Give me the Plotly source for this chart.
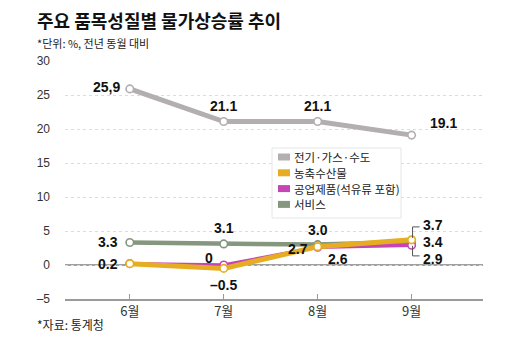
import plotly.graph_objects as go

months = ["6월", "7월", "8월", "9월"]
names = ["전기·가스·수도", "농축수산물", "공업제품(석유류 포함)", "서비스"]
utility = [25.9, 21.1, 21.1, 19.1]
agri = [0.2, -0.5, 2.7, 3.7]
industrial = [0.2, 0.0, 2.6, 2.9]
services = [3.3, 3.1, 3.0, 3.4]
colors = ["#b3aeb0", "#e6ad22", "#c545b5", "#85977f"]
widths = [5, 5, 3.5, 4.5]
yticks = [-5, 0, 5, 10, 15, 20, 25, 30]
yticktext = ["–5", "0", "5", "10", "15", "20", "25", "30"]

series = [utility, agri, industrial, services]
xi = list(range(len(months)))

fig = go.Figure()
# draw order: services, industrial, agri, utility
for k in [3, 2, 1, 0]:
    fig.add_trace(go.Scatter(
        x=xi, y=series[k], mode="lines+markers", name=names[k],
        line=dict(color=colors[k], width=widths[k]),
        marker=dict(size=7.5, color="white", line=dict(color=colors[k], width=1.6)),
        showlegend=False, hoverinfo="skip"))

LF = dict(family="Liberation Sans, Arial, sans-serif", size=14, color="#111")

def lab(i, v, text, xs, ys, xa="center"):
    fig.add_annotation(x=i, y=v, xref="x", yref="y", text="<b>%s</b>" % text,
                       showarrow=False, xshift=xs, yshift=ys, xanchor=xa,
                       yanchor="middle", font=LF)

def fmt(v):
    if v == 0:
        return "0"
    s = "%.1f" % abs(v)
    return ("–" + s) if v < 0 else s

# utility labels
lab(0, utility[0], fmt(utility[0]).replace(".", ","), -8, 2, "right")
lab(1, utility[1], fmt(utility[1]), 0, 16)
lab(2, utility[2], fmt(utility[2]), 0, 16)
lab(3, utility[3], fmt(utility[3]), 16, 12, "left")
# services / agri / industrial
lab(0, services[0], fmt(services[0]), -10, 1, "right")
lab(0, agri[0], fmt(agri[0]), -10, 0, "right")
lab(1, services[1], fmt(services[1]), 0, 16)
lab(1, industrial[1], fmt(industrial[1]), -9, 7, "right")
lab(1, agri[1], fmt(agri[1]), 0, -17)
lab(2, services[2], fmt(services[2]), 0, 15)
lab(2, agri[2], fmt(agri[2]), -8, -2, "right")
lab(2, industrial[2], fmt(industrial[2]), 8, -12, "left")
# 9월 bracket labels
for val, ys in [(agri[3], 17), (services[3], 0), (industrial[3], -17)]:
    lab(3, services[3], fmt(val), 9, ys, "left")

# bracket (pixel-scaled in data units)
ppu = 238 / 35.0
yc = services[3]
top = yc + 15 / ppu
bot = yc - 14 / ppu
dx = 7 / 94.0
for y0, y1 in [(top, yc + 4 / ppu), (yc - 4 / ppu, bot)]:
    fig.add_shape(type="line", xref="x", yref="y", x0=3.01, x1=3.01, y0=y0, y1=y1,
                  line=dict(color="#555", width=1))
for yy in [top, bot]:
    fig.add_shape(type="line", xref="x", yref="y", x0=3.01, x1=3.01 + dx, y0=yy, y1=yy,
                  line=dict(color="#555", width=1))

# zero line
fig.add_shape(type="line", xref="paper", yref="y", x0=0, x1=1, y0=0, y1=0,
              line=dict(color="#a0a0a0", width=2), layer="below")

# manual legend
W, H, L, B = 418.0, 238.0, 65.0, 299.0
def px(x): return (x - L) / W
def py(y): return (B - y) / H
fig.add_shape(type="rect", xref="paper", yref="paper", x0=px(272), x1=px(401),
              y0=py(218), y1=py(148), line=dict(color="#e6e6e6", width=1),
              fillcolor="white", layer="above")
for j, nm in enumerate(names):
    ry = 157 + j * 15.8
    fig.add_shape(type="rect", xref="paper", yref="paper", x0=px(278), x1=px(290),
                  y0=py(ry + 3.5), y1=py(ry - 3.5), line=dict(width=0),
                  fillcolor=colors[j], layer="above")
    fig.add_annotation(xref="paper", yref="paper", x=px(292), y=py(ry), text=nm,
                       showarrow=False, xanchor="left", yanchor="middle",
                       font=dict(family="Noto Sans CJK KR", size=11.5, color="#222"))

# titles
fig.add_annotation(xref="paper", yref="paper", x=px(35), y=py(20), text="<b>주요 품목성질별 물가상승률 추이</b>",
                   showarrow=False, xanchor="left", yanchor="middle",
                   font=dict(family="Noto Sans CJK KR", size=18, color="#111"))
fig.add_annotation(xref="paper", yref="paper", x=px(35), y=py(43), text="*단위: %, 전년 동월 대비",
                   showarrow=False, xanchor="left", yanchor="middle",
                   font=dict(family="Noto Sans CJK KR", size=11, color="#222"))
fig.add_annotation(xref="paper", yref="paper", x=px(35), y=py(324), text="*자료: 통계청",
                   showarrow=False, xanchor="left", yanchor="middle",
                   font=dict(family="Noto Sans CJK KR", size=12, color="#222"))

fig.update_layout(
    width=520, height=340, margin=dict(l=65, r=37, t=61, b=41),
    paper_bgcolor="white", plot_bgcolor="white", showlegend=False,
    xaxis=dict(range=[-0.69, 3.76], tickmode="array", tickvals=xi, ticktext=months,
               showgrid=False, zeroline=False, showline=True, linecolor="#9a9a9a",
               linewidth=1.5, ticks="inside", ticklen=5, tickcolor="#9a9a9a",
               tickfont=dict(family="Noto Sans CJK KR", size=13, color="#333")),
    yaxis=dict(range=[-5, 30], tickmode="array", tickvals=yticks, ticktext=yticktext,
               showgrid=True, gridcolor="#dcdcdc", griddash="dot", gridwidth=1,
               zeroline=False, showline=False, ticks="", ticklabelstandoff=14,
               tickfont=dict(family="Liberation Sans, Arial", size=12, color="#333")),
)
fig.write_html("out.html")
